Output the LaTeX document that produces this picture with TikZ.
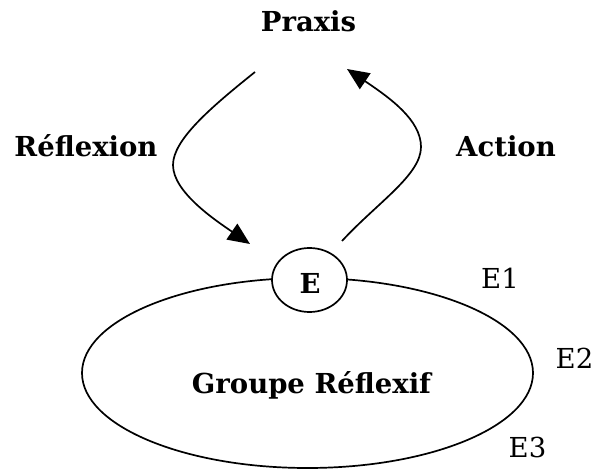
\documentclass[tikz,border=0pt]{standalone}
\usepackage{fontspec}
\setmainfont{DejaVu Serif}
\usetikzlibrary{shapes.geometric,arrows.meta}
\begin{document}
\begin{tikzpicture}[x=1pt,y=-1pt,
  line width=1.7pt,
  bigtxt/.style={font=\fontsize{27.5}{32}\selectfont\bfseries, inner sep=0pt, anchor=base},
  smalltxt/.style={font=\fontsize{27.5}{32}\selectfont, inner sep=0pt, anchor=base},
  arr/.style={-{Triangle[length=22pt,width=19pt]}, line width=1.7pt},
  ovalbox/.style={draw, ellipse, inner sep=0pt}]
\useasboundingbox (0,0) rectangle (594,470);
\node[bigtxt] (praxis) at (308.5,32) {Praxis};
\node[bigtxt] (refl) at (86,157) {Réflexion};
\node[bigtxt] (action) at (506,157) {Action};
\node[ovalbox, minimum width=451pt, minimum height=190pt] (grp) at (307.5,373) {};
\node[bigtxt] (grptext) at (311.5,393) {Groupe Réflexif};
\node[ovalbox, fill=white, minimum width=75pt, minimum height=64pt] (e) at (309.5,280) {};
\node[bigtxt] (etext) at (310,294) {E};
\node[smalltxt] (e1) at (500,288) {E1};
\node[smalltxt] (e2) at (574.5,368) {E2};
\node[smalltxt] (e3) at (527.5,457) {E3};
\coordinate (ls) at (255,72);
\coordinate (le) at (250,244);
\coordinate (rs) at (342,241);
\coordinate (re) at (347,69);
\draw[arr] (ls) .. controls (210,108) and (173,140) .. (173,165)
  .. controls (173,192) and (215,220) .. (le);
\draw[arr] (rs) .. controls (377,203) and (421,175) .. (421,147)
  .. controls (421,120) and (390,98) .. (re);
\end{tikzpicture}
\end{document}
